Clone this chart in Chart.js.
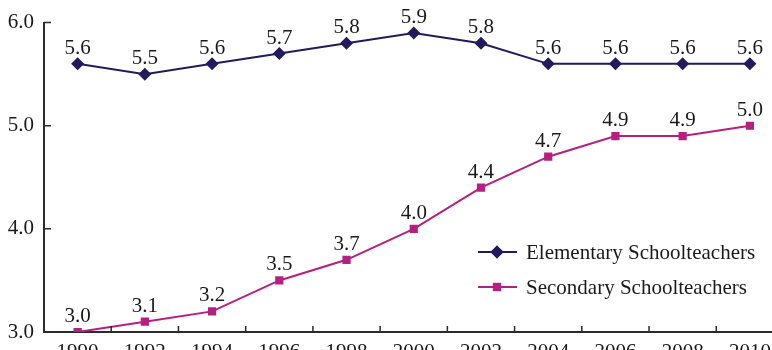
<!DOCTYPE html>
<html>
<head>
<meta charset="utf-8">
<script src="https://cdn.jsdelivr.net/npm/chart.js@4.4.1/dist/chart.umd.min.js"></script>
<style>
  html, body { margin: 0; padding: 0; background: #ffffff; }
  #wrap { width: 772px; height: 350px; overflow: hidden; position: relative; }
  canvas { display: block; }
</style>
</head>
<body>
<div id="wrap"><canvas id="c" width="790" height="364"></canvas></div>
<script>
// Teachers' figures by year, one value per survey year
const years = ['1990', '1992', '1994', '1996', '1998', '2000', '2002', '2004', '2006', '2008', '2010'];
const elementary = [5.6, 5.5, 5.6, 5.7, 5.8, 5.9, 5.8, 5.6, 5.6, 5.6, 5.6];
const secondary = [3.0, 3.1, 3.2, 3.5, 3.7, 4.0, 4.4, 4.7, 4.9, 4.9, 5.0];
const yTicks = [3.0, 4.0, 5.0, 6.0];
const seriesNames = ['Elementary Schoolteachers', 'Secondary Schoolteachers'];

const NAVY = '#1f1b5c';
const MAGENTA = '#b3207f';
const AXIS = '#2b2b2b';
const TEXT = '#1a1a1a';
const FONT = '"Liberation Serif", "Times New Roman", serif';
const FONT_SIZE = 21;

// value labels above every point
const valueLabels = {
  id: 'valueLabels',
  afterDatasetsDraw(chart) {
    const ctx = chart.ctx;
    ctx.save();
    ctx.font = FONT_SIZE + 'px ' + FONT;
    ctx.fillStyle = TEXT;
    ctx.textAlign = 'center';
    ctx.textBaseline = 'alphabetic';
    chart.data.datasets.forEach((ds, i) => {
      const meta = chart.getDatasetMeta(i);
      meta.data.forEach((pt, j) => {
        ctx.fillText(ds.data[j].toFixed(1), pt.x, pt.y - 10);
      });
    });
    ctx.restore();
  }
};

// short inward tick marks on both axes
const innerTicks = {
  id: 'innerTicks',
  afterDraw(chart) {
    const ctx = chart.ctx;
    const x = chart.scales.x, y = chart.scales.y;
    const area = chart.chartArea;
    ctx.save();
    ctx.strokeStyle = AXIS;
    ctx.lineWidth = 1.5;
    ctx.beginPath();
    for (let i = 1; i < years.length; i++) {
      const px = (x.getPixelForValue(i - 1) + x.getPixelForValue(i)) / 2;
      ctx.moveTo(px, area.bottom);
      ctx.lineTo(px, area.bottom - 6);
    }
    yTicks.forEach(v => {
      if (v === y.min) return;
      const py = y.getPixelForValue(v);
      ctx.moveTo(area.left, py);
      ctx.lineTo(area.left + 7, py);
    });
    ctx.stroke();
    ctx.restore();
  }
};

// legend placed inside the plot, lower right
const innerLegend = {
  id: 'innerLegend',
  afterDraw(chart) {
    const ctx = chart.ctx;
    const rows = [252, 287];
    ctx.save();
    chart.data.datasets.forEach((ds, i) => {
      const yy = rows[i];
      ctx.strokeStyle = ds.borderColor;
      ctx.lineWidth = 2;
      ctx.beginPath();
      ctx.moveTo(478, yy);
      ctx.lineTo(517, yy);
      ctx.stroke();
      ctx.fillStyle = ds.borderColor;
      Chart.helpers.drawPoint(ctx, {
        pointStyle: ds.pointStyle,
        radius: ds.pointRadius,
        borderWidth: 0,
        rotation: 0
      }, 497, yy);
      ctx.fill();
      ctx.font = FONT_SIZE + 'px ' + FONT;
      ctx.fillStyle = TEXT;
      ctx.textAlign = 'left';
      ctx.textBaseline = 'middle';
      ctx.fillText(ds.label, 526, yy + 1);
    });
    ctx.restore();
  }
};

new Chart(document.getElementById('c'), {
  type: 'line',
  data: {
    labels: years,
    datasets: [
      {
        label: seriesNames[0],
        data: elementary,
        borderColor: NAVY,
        backgroundColor: NAVY,
        borderWidth: 2,
        pointStyle: 'rectRot',
        pointRadius: 6.5,
        pointBorderWidth: 0,
        tension: 0
      },
      {
        label: seriesNames[1],
        data: secondary,
        borderColor: MAGENTA,
        backgroundColor: MAGENTA,
        borderWidth: 2,
        pointStyle: 'rect',
        pointRadius: 5.8,
        pointBorderWidth: 0,
        tension: 0
      }
    ]
  },
  options: {
    responsive: false,
    animation: false,
    devicePixelRatio: 1,
    layout: { padding: { top: 22, right: 0, left: 0, bottom: 0 } },
    plugins: {
      legend: { display: false },
      tooltip: { enabled: false }
    },
    scales: {
      x: {
        type: 'category',
        offset: true,
        grid: { display: false, drawTicks: false },
        border: { display: true, color: AXIS, width: 2 },
        ticks: {
          color: TEXT,
          padding: 8,
          maxRotation: 0,
          autoSkip: false,
          font: { family: FONT, size: FONT_SIZE }
        },
        afterFit(scale) { scale.height = 32; }
      },
      y: {
        min: 3.0,
        max: 6.0,
        grid: { display: false, drawTicks: false },
        border: { display: true, color: AXIS, width: 2 },
        afterBuildTicks(scale) { scale.ticks = yTicks.map(v => ({ value: v })); },
        ticks: {
          color: TEXT,
          padding: 10,
          font: { family: FONT, size: FONT_SIZE },
          callback: v => Number(v).toFixed(1)
        },
        afterFit(scale) { scale.width = 44; }
      }
    }
  },
  plugins: [valueLabels, innerTicks, innerLegend]
});
</script>
</body>
</html>
